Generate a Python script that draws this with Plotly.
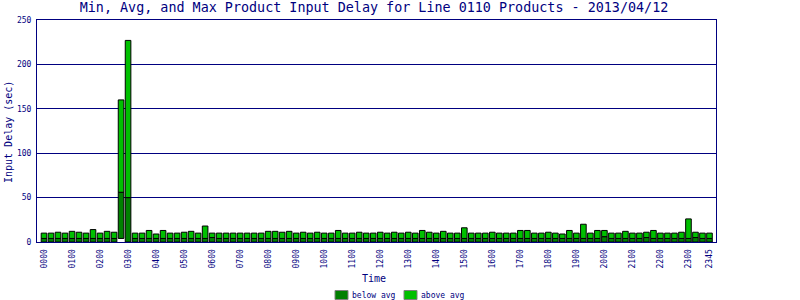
import plotly.graph_objects as go

times = [f"{h:02d}{m:02d}" for h in range(24) for m in (0, 15, 30, 45)]

max_delay = [10, 10, 11, 10, 12, 11, 10, 14, 10, 12, 11, 160, 227, 10, 10, 13, 9, 13, 10, 10, 11, 12, 10, 18,
             10, 10, 10, 10, 10, 10, 10, 10, 12, 12, 11, 12, 10, 11, 10, 11, 10, 10, 13, 10, 10, 11, 10, 10,
             11, 10, 11, 10, 11, 10, 13, 11, 10, 12, 10, 10, 16, 10, 10, 10, 11, 10, 10, 10, 13, 13, 10, 10,
             11, 10, 9, 13, 10, 20, 10, 13, 13, 10, 10, 12, 10, 10, 11, 13, 10, 10, 10, 11, 26, 11, 10, 10]

avg_delay = [4, 4, 4, 4, 4, 4, 4, 4, 4, 4, 4, 56, 50, 4, 4, 4, 4, 4, 4, 4, 4, 4, 4, 4,
             5, 4, 4, 4, 4, 4, 4, 4, 4, 4, 4, 4, 4, 4, 4, 4, 4, 4, 4, 4, 4, 4, 4, 4,
             4, 4, 4, 4, 4, 4, 4, 4, 4, 4, 4, 4, 4, 4, 4, 4, 4, 4, 4, 4, 4, 4, 4, 4,
             4, 4, 4, 4, 4, 4, 4, 4, 6, 4, 4, 4, 4, 4, 5, 4, 4, 4, 4, 4, 4, 5, 4, 4]

min_delay = [0] * 11 + [4] + [0] * 84

tick_idx = list(range(0, 96, 4)) + [95]
tick_text = [times[i] for i in tick_idx]

series_names = ["below avg", "above avg"]

NAVY = "#000080"
DARK = "#008000"
LIGHT = "#00c000"
FONT = "DejaVu Sans Mono"

# plot area in pixels (for placing decorations)
L, R, T, B = 37, 84, 20, 58
PW, PH = 800 - L - R, 300 - T - B


def px_x(p):
    return (p - L) / PW


def px_y(p):
    return (300 - B - p) / PH


x = list(range(96))
below_len = [a - m for a, m in zip(avg_delay, min_delay)]
above_len = [mx - a for mx, a in zip(max_delay, avg_delay)]

fig = go.Figure()
fig.add_trace(go.Bar(x=x, y=below_len, base=min_delay, width=0.8, name=series_names[0],
                     marker=dict(color=DARK, line=dict(color="black", width=1)),
                     showlegend=False, hoverinfo="skip"))
fig.add_trace(go.Bar(x=x, y=above_len, base=avg_delay, width=0.8, name=series_names[1],
                     marker=dict(color=LIGHT, line=dict(color="black", width=1)),
                     showlegend=False, hoverinfo="skip"))

# manual legend (swatches + labels)
shapes = []
annotations = []
for name, col, sx in zip(series_names, [DARK, LIGHT], [335, 404]):
    shapes.append(dict(type="rect", xref="paper", yref="paper",
                       x0=px_x(sx), x1=px_x(sx + 13), y0=px_y(299.5), y1=px_y(290.5),
                       fillcolor=col, line=dict(color="#808080", width=1)))
    annotations.append(dict(text=name, xref="paper", yref="paper", x=px_x(sx + 15), y=px_y(295),
                            xanchor="left", yanchor="middle", showarrow=False,
                            font=dict(family=FONT, size=8, color=NAVY)))

annotations.append(dict(text="Time", xref="paper", yref="paper", x=px_x(374), y=px_y(278),
                        xanchor="center", yanchor="middle", showarrow=False,
                        font=dict(family=FONT, size=10, color=NAVY)))
annotations.append(dict(text="Input Delay (sec)", xref="paper", yref="paper", x=px_x(8), y=px_y(132),
                        xanchor="center", yanchor="middle", showarrow=False, textangle=-90,
                        font=dict(family=FONT, size=10, color=NAVY)))

fig.update_layout(
    width=800, height=300,
    margin=dict(l=L, r=R, t=T, b=B),
    paper_bgcolor="white", plot_bgcolor="white",
    barmode="overlay",
    font=dict(family=FONT, color=NAVY, size=8),
    title=dict(text="Min, Avg, and Max Product Input Delay for Line 0110 Products - 2013/04/12",
               x=374 / 800, xanchor="center", y=0.975, yanchor="middle",
               font=dict(family=FONT, size=13.4, color=NAVY)),
    showlegend=False,
    shapes=shapes,
    annotations=annotations,
)

fig.update_xaxes(
    range=[-1, 95.93], tickmode="array", tickvals=tick_idx, ticktext=tick_text,
    tickangle=-90, showgrid=False, zeroline=False, automargin=False,
    showline=True, linecolor=NAVY, linewidth=1, mirror=True, ticks="",
    ticklabelstandoff=3,
    tickfont=dict(family=FONT, size=8, color=NAVY),
)
fig.update_yaxes(
    range=[0, 250], tickmode="array", tickvals=[0, 50, 100, 150, 200, 250],
    showgrid=True, gridcolor=NAVY, gridwidth=1, zeroline=False, automargin=False,
    showline=True, linecolor=NAVY, linewidth=1, mirror=True, ticks="",
    ticklabelstandoff=3,
    tickfont=dict(family=FONT, size=8, color=NAVY),
)

fig.write_html("out.html")
